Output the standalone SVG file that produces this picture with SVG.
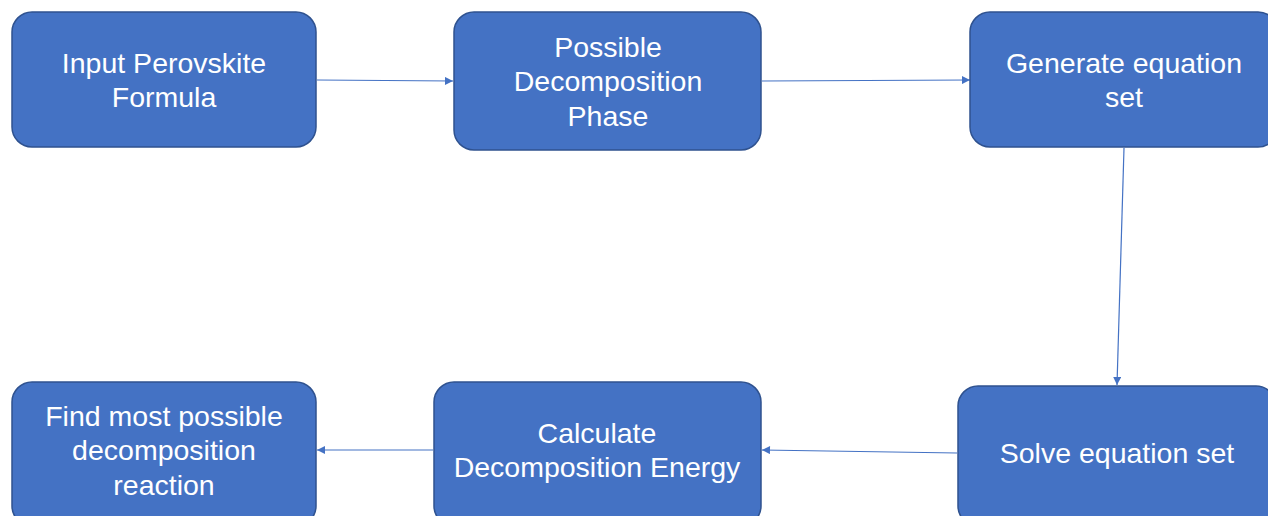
<svg xmlns="http://www.w3.org/2000/svg" width="1268" height="516" viewBox="0 0 1268 516">
<style>
.box{fill:#4472C4;stroke:#2F528F;stroke-width:1.5}
.t{font-family:'Liberation Sans', Arial, sans-serif;font-size:28.5px;fill:#fff;text-anchor:middle}
.c{stroke:#4472C4;stroke-width:1.2;fill:none;marker-end:url(#ah)}
</style>
<defs>
<marker id="ah" viewBox="0 0 10 10" refX="10" refY="5" markerWidth="10" markerHeight="8" markerUnits="userSpaceOnUse" orient="auto">
<path d="M0,0 L10,5 L0,10 Z" fill="#4472C4"/>
</marker>
</defs>
<g id="connectors">
<line class="c" x1="317" y1="80" x2="453" y2="81"/>
<line class="c" x1="762" y1="81" x2="970" y2="80"/>
<line class="c" x1="1124" y1="148" x2="1117" y2="385"/>
<line class="c" x1="957" y1="453" x2="762" y2="450"/>
<line class="c" x1="433" y1="450" x2="317" y2="450"/>
</g>
<g id="n1">
<rect class="box" x="12" y="12" width="304" height="135" rx="20"/>
<text class="t" x="164" y="73">Input Perovskite</text>
<text class="t" x="164" y="107">Formula</text>
</g>
<g id="n2">
<rect class="box" x="454" y="12" width="307" height="138" rx="20"/>
<text class="t" x="608" y="57">Possible</text>
<text class="t" x="608" y="91">Decomposition</text>
<text class="t" x="608" y="126">Phase</text>
</g>
<g id="n3">
<rect class="box" x="970" y="12" width="308" height="135" rx="20"/>
<text class="t" x="1124" y="73">Generate equation</text>
<text class="t" x="1124" y="107">set</text>
</g>
<g id="n4">
<rect class="box" x="958" y="386" width="318" height="140" rx="20"/>
<text class="t" x="1117" y="463">Solve equation set</text>
</g>
<g id="n5">
<rect class="box" x="434" y="382" width="327" height="144" rx="20"/>
<text class="t" x="597" y="443">Calculate</text>
<text class="t" x="597" y="477">Decomposition Energy</text>
</g>
<g id="n6">
<rect class="box" x="12" y="382" width="304" height="144" rx="20"/>
<text class="t" x="164" y="426">Find most possible</text>
<text class="t" x="164" y="460">decomposition</text>
<text class="t" x="164" y="495">reaction</text>
</g>
</svg>
